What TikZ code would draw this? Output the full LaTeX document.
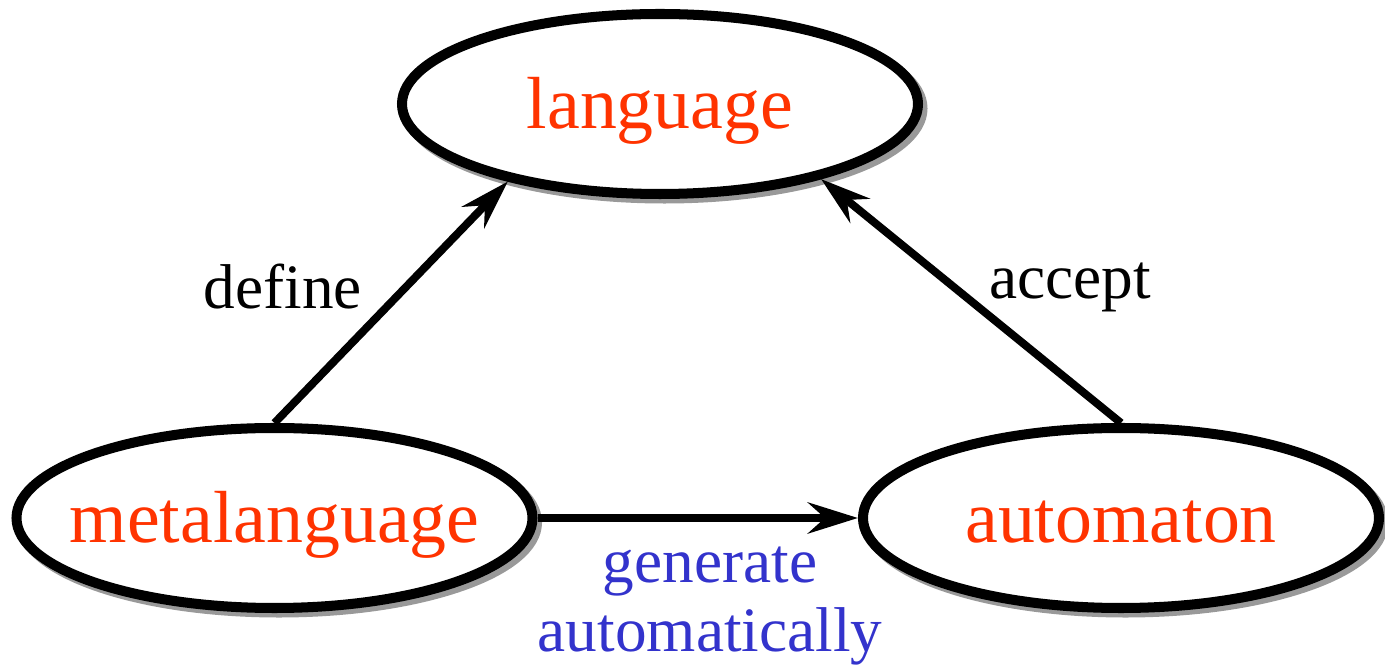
\documentclass[tikz,border=0pt]{standalone}
\usepackage{fontspec}
\setmainfont{Liberation Serif}
\usetikzlibrary{shapes.geometric,arrows.meta}

\definecolor{termred}{RGB}{255,51,0}
\definecolor{noteblue}{RGB}{51,51,204}

\begin{document}
\begin{tikzpicture}

    \pgfmathsetmacro\rx{10.32}
    \pgfmathsetmacro\ry{3.6}
    \tikzset{
        term/.style={ellipse, draw, line width=5.7pt, fill=white,
            minimum width=\rx cm, minimum height=\ry cm,
            inner xsep=-0.5cm, inner ysep=0pt,
            text height=1.3cm, text depth=0.32cm,
            text=termred, font=\fontsize{42}{46}\selectfont,
            preaction={draw=black!40, line width=5.7pt,
                transform canvas={shift={(0.09,-0.09)}}}},
        link/.style={line width=4.5pt,
            -{Stealth[length=1cm, width=0.62cm, inset=0.34cm]}},
        note/.style={font=\fontsize{36}{39}\selectfont, align=center}
    }

    \useasboundingbox (0,0) rectangle (27.7,13.42);

    \node[term] (language) at (13.2,11.34) {language};
    \node[term] (metalanguage) at (5.49,3.06) {metalanguage};
    \node[term] (automaton) at (22.42,3.06) {automaton};

    \draw[link] (metalanguage.north) -- (language.207);
    \draw[link] (automaton.north) -- (language.335);
    \draw[link] (metalanguage) -- (automaton);

    \node[note] (define) at (5.66,7.68) {define};
    \node[note] (accept) at (21.4,7.68) {accept};
    \node[note, text=noteblue] (generate) at (14.2,1.3) {generate\\automatically};

\end{tikzpicture}
\end{document}
